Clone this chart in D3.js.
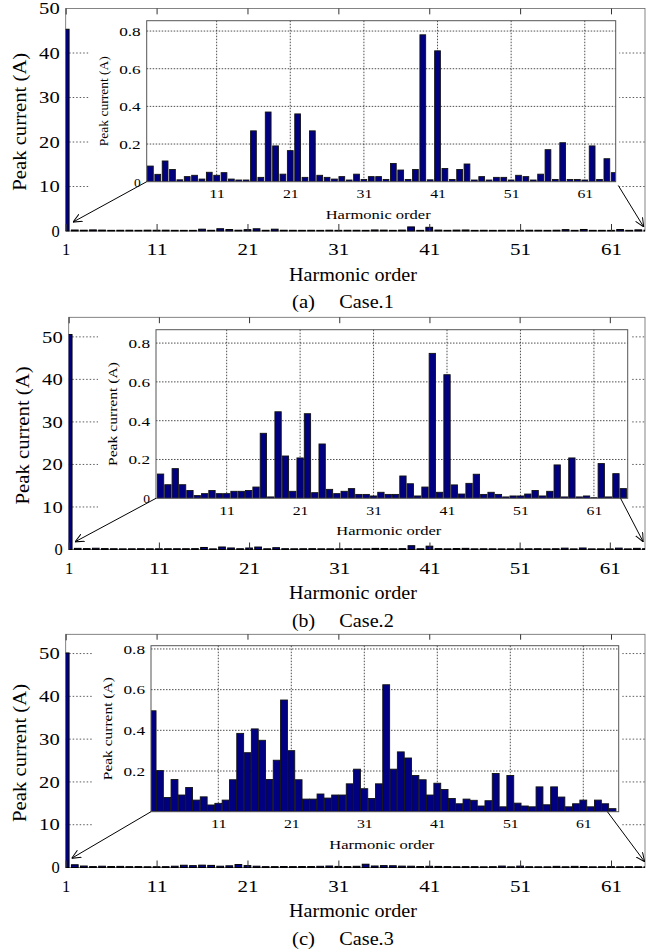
<!DOCTYPE html>
<html>
<head>
<meta charset="utf-8">
<script src="https://cdn.jsdelivr.net/npm/d3@7"></script>
<style>
  body { margin: 0; background: #fff; }
  svg { display: block; font-family: "Liberation Serif", "Times New Roman", serif; }
  svg text { font-family: "Liberation Serif", "Times New Roman", serif; }
</style>
</head>
<body>
<script>
// harmonic orders 1..65
var orders = [1, 2, 3, 4, 5, 6, 7, 8, 9, 10, 11, 12, 13, 14, 15, 16, 17, 18, 19, 20,
  21, 22, 23, 24, 25, 26, 27, 28, 29, 30, 31, 32, 33, 34, 35, 36, 37, 38, 39, 40,
  41, 42, 43, 44, 45, 46, 47, 48, 49, 50, 51, 52, 53, 54, 55, 56, 57, 58, 59, 60,
  61, 62, 63, 64, 65];

// peak current (A) per harmonic order, first value = fundamental
var case1 = [45.2,
  0.083, 0.039, 0.11, 0.065, 0.01, 0.027, 0.034, 0.014, 0.05, 0.034,
  0.048, 0.014, 0.009, 0.009, 0.27, 0.023, 0.37, 0.19, 0.04, 0.165,
  0.36, 0.023, 0.27, 0.034, 0.023, 0.014, 0.027, 0.009, 0.04, 0.012,
  0.027, 0.027, 0.012, 0.097, 0.062, 0.012, 0.065, 0.78, 0.01, 0.695,
  0.07, 0.012, 0.065, 0.094, 0.009, 0.027, 0.009, 0.023, 0.023, 0.009,
  0.034, 0.027, 0.009, 0.04, 0.17, 0.012, 0.207, 0.012, 0.012, 0.009,
  0.19, 0.012, 0.122, 0.048];

var case2 = [50.4,
  0.125, 0.07, 0.153, 0.07, 0.04, 0.014, 0.024, 0.04, 0.024, 0.024,
  0.036, 0.036, 0.04, 0.058, 0.335, 0.007, 0.446, 0.218, 0.036, 0.208,
  0.436, 0.029, 0.28, 0.046, 0.024, 0.036, 0.05, 0.02, 0.02, 0.012,
  0.031, 0.02, 0.02, 0.115, 0.075, 0.012, 0.058, 0.747, 0.031, 0.637,
  0.069, 0.022, 0.077, 0.124, 0.02, 0.031, 0.02, 0.007, 0.012, 0.012,
  0.022, 0.04, 0.012, 0.036, 0.172, 0.007, 0.208, 0.007, 0.012, 0.003,
  0.179, 0.007, 0.127, 0.05];

var case3 = [50.0,
  0.496, 0.202, 0.07, 0.158, 0.082, 0.119, 0.057, 0.073, 0.033, 0.041,
  0.057, 0.157, 0.385, 0.29, 0.407, 0.351, 0.158, 0.253, 0.549, 0.30,
  0.157, 0.062, 0.062, 0.087, 0.067, 0.082, 0.082, 0.137, 0.209, 0.113,
  0.065, 0.137, 0.624, 0.209, 0.294, 0.264, 0.178, 0.157, 0.082, 0.14,
  0.109, 0.065, 0.039, 0.062, 0.056, 0.028, 0.054, 0.188, 0.024, 0.178,
  0.042, 0.028, 0.024, 0.122, 0.034, 0.122, 0.072, 0.024, 0.039, 0.057,
  0.024, 0.057, 0.039, 0.015];

// tick labels
var outerXTicks = [1, 11, 21, 31, 41, 51, 61];
var outerYTicks = [0, 10, 20, 30, 40, 50];
var insetXTicks = [11, 21, 31, 41, 51, 61];
var insetYTicks = [0, 0.2, 0.4, 0.6, 0.8];
var insetYTicksNoZero = [0.2, 0.4, 0.6, 0.8];

var captionTags = ["(a)", "(b)", "(c)"];
var captionNames = ["Case.1", "Case.2", "Case.3"];

var yLabel = "Peak current (A)";
var xLabel = "Harmonic order";

// layout of the three stacked figures
var panels = [
  { values: case1, left: 65.7, right: 645, top: 8.5, bottom: 231, xMax: 64.74, yMax: 50,
    inLeft: 146.7, inRight: 615.7, inTop: 20.7, inBottom: 181.7, inXDom: [1.5, 65.2], inYMax: 0.855,
    inYTicks: insetYTicks, inBar: 0.78, inYLabelLen: 90,
    arrowL: [1.8, 2.0], arrowR: [65.55, -0.02, 64.6, 0.9] },
  { values: case2, left: 68.7, right: 645, top: 317.3, bottom: 549.5, xMax: 64.9, yMax: 54.6,
    inLeft: 156, inRight: 627.7, inTop: 329.7, inBottom: 498.3, inXDom: [1.38, 65.6], inYMax: 0.869,
    inYTicks: insetYTicks, inBar: 0.86, inYLabelLen: 104,
    arrowL: [1.7, 1.8], arrowR: [64.63, 0, 64.7, 1.8] },
  { values: case3, left: 65.7, right: 645, top: 634.3, bottom: 867.5, xMax: 64.74, yMax: 54.5,
    inLeft: 151, inRight: 618.7, inTop: 645.7, inBottom: 811.7, inXDom: [1.78, 65.85], inYMax: 0.816,
    inYTicks: insetYTicksNoZero, inBar: 0.94, inYLabelLen: 103,
    arrowL: [1.66, 2.15], arrowR: [64.3, 0, 64.7, 1.35] }
];

var barFill = "#000080";
var serif = "Liberation Serif";

var svg = d3.select("body").append("svg")
    .attr("width", 646)
    .attr("height", 952);

var defs = svg.append("defs");

defs.append("marker")
    .attr("id", "arrow")
    .attr("viewBox", "0 0 10 10")
    .attr("refX", 10)
    .attr("refY", 5)
    .attr("markerWidth", 9)
    .attr("markerHeight", 9)
    .attr("markerUnits", "userSpaceOnUse")
    .attr("orient", "auto")
    .append("path")
    .attr("d", "M0,0.5 L10,5 L0,9.5")
    .attr("fill", "none")
    .attr("stroke", "#000")
    .attr("stroke-width", 1.1);

// axis groups get d3's default font, so set ours after the call
function styleAxis(sel, size, widthFn) {
  sel.attr("font-family", serif).attr("font-size", size);
  sel.select(".domain").remove();
  sel.selectAll(".tick line").attr("stroke", "#333");
  sel.selectAll(".tick text").attr("fill", "#000").each(function() {
    var s = d3.select(this).text();
    var w = widthFn ? widthFn(s) : 0;
    if (w) d3.select(this).attr("textLength", w).attr("lengthAdjust", "spacingAndGlyphs");
  });
}

function drawPanel(p, k) {
  var g = svg.append("g");

  var x = d3.scaleLinear().domain([1, p.xMax]).range([p.left, p.right]);
  var y = d3.scaleLinear().domain([0, p.yMax]).range([p.bottom, p.top]);
  var step = x(2) - x(1);

  // dotted horizontal grid of the main axes
  g.selectAll(".ygrid")
      .data(outerYTicks.filter(function(d) { return d > 0 && y(d) > p.top + 1; }))
      .enter().append("line")
      .attr("x1", p.left).attr("x2", p.right)
      .attr("y1", function(d) { return y(d); })
      .attr("y2", function(d) { return y(d); })
      .attr("stroke", "#333")
      .attr("stroke-width", 0.8)
      .attr("stroke-dasharray", "1.5,2");

  // main box
  g.append("rect")
      .attr("x", p.left).attr("y", p.top)
      .attr("width", p.right - p.left).attr("height", p.bottom - p.top)
      .attr("fill", "none")
      .attr("stroke", "#666")
      .attr("stroke-width", 0.8);

  // main bars
  var cid = "clipMain" + k;
  defs.append("clipPath").attr("id", cid).append("rect")
      .attr("x", p.left).attr("y", p.top - 1)
      .attr("width", p.right - p.left).attr("height", p.bottom - p.top + 2);

  g.append("g").attr("clip-path", "url(#" + cid + ")")
      .selectAll("rect")
      .data(p.values)
      .enter().append("rect")
      .attr("x", function(d, i) { return x(orders[i]) - step * 0.37; })
      .attr("width", step * 0.74)
      .attr("y", function(d) { return y(d) - 0.6; })
      .attr("height", function(d) { return p.bottom - y(d) + 0.6; })
      .attr("fill", barFill)
      .attr("stroke", "#000")
      .attr("stroke-width", 1);

  // main axes
  var fs = 16.5;
  var xAxis = g.append("g")
      .attr("transform", "translate(0," + p.bottom + ")")
      .call(d3.axisBottom(x).tickValues(outerXTicks).tickSizeInner(-7).tickSizeOuter(0).tickPadding(24 - 0.71 * fs));
  styleAxis(xAxis, fs, function(s) { return s.length > 1 ? s.length * 10.5 : 0; });

  var topAxis = g.append("g")
      .attr("transform", "translate(0," + p.top + ")")
      .call(d3.axisTop(x).tickValues(outerXTicks).tickSizeInner(-6).tickSizeOuter(0).tickFormat(""));
  styleAxis(topAxis, fs);

  var yAxis = g.append("g")
      .attr("transform", "translate(" + p.left + ",0)")
      .call(d3.axisLeft(y).tickValues(outerYTicks.filter(function(d) { return d <= p.yMax; }))
          .tickSizeInner(0).tickSizeOuter(0).tickPadding(6));
  styleAxis(yAxis, fs, function(s) { return s.length > 1 ? s.length * 10.3 : 0; });

  // main axis titles
  g.append("text")
      .attr("transform", "translate(" + (p.left - 39.7) + "," + ((p.top + p.bottom) / 2 + 2) + ") rotate(-90)")
      .attr("text-anchor", "middle")
      .attr("font-size", 19.5)
      .attr("textLength", 138)
      .attr("lengthAdjust", "spacingAndGlyphs")
      .text(yLabel);

  g.append("text")
      .attr("x", 353)
      .attr("y", p.bottom + 49.5)
      .attr("text-anchor", "middle")
      .attr("font-size", 19.5)
      .attr("textLength", 128)
      .attr("lengthAdjust", "spacingAndGlyphs")
      .text(xLabel);

  // caption
  g.append("text")
      .attr("x", 292)
      .attr("y", p.bottom + 77.3)
      .attr("font-size", 18)
      .attr("textLength", 23)
      .attr("lengthAdjust", "spacingAndGlyphs")
      .text(captionTags[k]);
  g.append("text")
      .attr("x", 339.3)
      .attr("y", p.bottom + 77.3)
      .attr("font-size", 18)
      .attr("textLength", 54.5)
      .attr("lengthAdjust", "spacingAndGlyphs")
      .text(captionNames[k]);

  // ---- zoomed inset ----
  var ix = d3.scaleLinear().domain(p.inXDom).range([p.inLeft, p.inRight]);
  var iy = d3.scaleLinear().domain([0, p.inYMax]).range([p.inBottom, p.inTop]);
  var istep = ix(2) - ix(1);

  // white background hiding the main grid
  g.append("rect")
      .attr("x", p.inLeft - 58)
      .attr("y", p.inTop - 6)
      .attr("width", p.inRight + 3.5 - (p.inLeft - 58))
      .attr("height", p.inBottom + 39 - (p.inTop - 6))
      .attr("fill", "#fff");

  var ig = g.append("g");

  ig.selectAll(".ixgrid")
      .data(insetXTicks)
      .enter().append("line")
      .attr("x1", function(d) { return ix(d); })
      .attr("x2", function(d) { return ix(d); })
      .attr("y1", p.inTop).attr("y2", p.inBottom)
      .attr("stroke", "#222")
      .attr("stroke-width", 0.8)
      .attr("stroke-dasharray", "1.5,1.5");

  ig.selectAll(".iygrid")
      .data(insetYTicks.filter(function(d) { return d > 0; }))
      .enter().append("line")
      .attr("x1", p.inLeft).attr("x2", p.inRight)
      .attr("y1", function(d) { return iy(d); })
      .attr("y2", function(d) { return iy(d); })
      .attr("stroke", "#222")
      .attr("stroke-width", 0.8)
      .attr("stroke-dasharray", "1.5,1.5");

  var icid = "clipInset" + k;
  defs.append("clipPath").attr("id", icid).append("rect")
      .attr("x", p.inLeft).attr("y", p.inTop)
      .attr("width", p.inRight - p.inLeft).attr("height", p.inBottom - p.inTop);

  ig.append("g").attr("clip-path", "url(#" + icid + ")")
      .selectAll("rect")
      .data(p.values.slice(1))
      .enter().append("rect")
      .attr("x", function(d, i) { return ix(orders[i + 1]) - istep * p.inBar / 2; })
      .attr("width", istep * p.inBar)
      .attr("y", function(d) { return iy(d); })
      .attr("height", function(d) { return p.inBottom - iy(d); })
      .attr("fill", barFill)
      .attr("stroke", "#111")
      .attr("stroke-width", 0.9);

  ig.append("rect")
      .attr("x", p.inLeft).attr("y", p.inTop)
      .attr("width", p.inRight - p.inLeft).attr("height", p.inBottom - p.inTop)
      .attr("fill", "none")
      .attr("stroke", "#555")
      .attr("stroke-width", 1);

  var ifs = 13.5;
  var ixAxis = ig.append("g")
      .attr("transform", "translate(0," + p.inBottom + ")")
      .call(d3.axisBottom(ix).tickValues(insetXTicks).tickSizeInner(0).tickSizeOuter(0).tickPadding(16.8 - 0.71 * ifs));
  styleAxis(ixAxis, ifs, function(s) { return s.length * 7.9; });

  var iyAxis = ig.append("g")
      .attr("transform", "translate(" + p.inLeft + ",0)")
      .call(d3.axisLeft(iy).tickValues(p.inYTicks).tickSizeInner(0).tickSizeOuter(0).tickPadding(6)
          .tickFormat(function(d) { return d === 0 ? "0" : d3.format(".1f")(d); }));
  styleAxis(iyAxis, ifs, function(s) { return s.length > 1 ? 21.5 : 0; });

  ig.append("text")
      .attr("transform", "translate(" + (p.inLeft - 39) + "," + (p.inTop + p.inBottom) / 2 + ") rotate(-90)")
      .attr("text-anchor", "middle")
      .attr("font-size", 13)
      .attr("textLength", p.inYLabelLen)
      .attr("lengthAdjust", "spacingAndGlyphs")
      .text(yLabel);

  ig.append("text")
      .attr("x", (p.inLeft + p.inRight) / 2 - 3)
      .attr("y", p.inBottom + 37)
      .attr("text-anchor", "middle")
      .attr("font-size", 13.5)
      .attr("textLength", 105)
      .attr("lengthAdjust", "spacingAndGlyphs")
      .text(xLabel);

  // arrows linking inset to the main axes
  g.append("line")
      .attr("x1", ix(p.inXDom[0])).attr("y1", iy(0))
      .attr("x2", x(p.arrowL[0])).attr("y2", y(p.arrowL[1]))
      .attr("stroke", "#000")
      .attr("stroke-width", 1)
      .attr("marker-end", "url(#arrow)");

  g.append("line")
      .attr("x1", ix(p.arrowR[0])).attr("y1", iy(p.arrowR[1]))
      .attr("x2", x(p.arrowR[2])).attr("y2", y(p.arrowR[3]))
      .attr("stroke", "#000")
      .attr("stroke-width", 1)
      .attr("marker-end", "url(#arrow)");
}

panels.forEach(drawPanel);
</script>
</body>
</html>
